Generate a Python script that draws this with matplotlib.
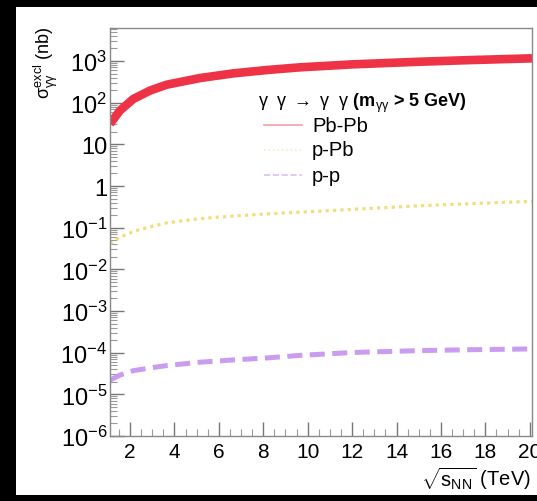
import numpy as np
import matplotlib
matplotlib.use("Agg")
import matplotlib.pyplot as plt
from matplotlib.patches import Rectangle
from matplotlib.ticker import FixedLocator, LogLocator, NullFormatter

plt.rcParams['font.family'] = ['Liberation Sans', 'DejaVu Sans']
plt.rcParams['mathtext.fontset'] = 'custom'
plt.rcParams['mathtext.rm'] = 'Liberation Sans'
plt.rcParams['mathtext.it'] = 'Liberation Sans'
plt.rcParams['mathtext.bf'] = 'Liberation Sans:bold'

# sqrt(s_NN) in TeV
energy = [1.1, 1.55, 2.15, 2.9, 3.65, 5.15, 6.65, 8.2, 9.65, 12, 15, 17.5, 20.1]
# cross sections in nb
pbpb = [31, 65, 123, 195, 270, 390, 505, 610, 705, 830, 960, 1060, 1160]
ppb = [0.041, 0.059, 0.081, 0.105, 0.13, 0.165, 0.19, 0.215, 0.235, 0.275, 0.335, 0.38, 0.43]
pp = [2.2e-5, 2.9e-5, 3.7e-5, 4.3e-5, 4.9e-5, 5.9e-5, 6.7e-5, 7.5e-5, 8.6e-5,
      1.01e-4, 1.12e-4, 1.18e-4, 1.23e-4]

ytick_vals = [1e-6, 1e-5, 1e-4, 1e-3, 1e-2, 1e-1, 1, 10, 1e2, 1e3]
ytick_labels = ['$10^{-6}$', '$10^{-5}$', '$10^{-4}$', '$10^{-3}$', '$10^{-2}$',
                '$10^{-1}$', '1', '10', '$10^{2}$', '$10^{3}$']
xtick_vals = [2, 4, 6, 8, 10, 12, 14, 16, 18, 20]

fig = plt.figure(figsize=(5.37, 5.02), dpi=100, facecolor='black')
fig.patches.append(Rectangle((16 / 537, 6 / 502), 521 / 537, 488 / 502,
                             transform=fig.transFigure, facecolor='white',
                             edgecolor='none', zorder=-5))
ax = fig.add_axes([110 / 537, 1 - 437 / 502, 422 / 537, 408 / 502], zorder=2)

ax.plot(energy, pbpb, color='#ee3347', lw=6.2, solid_capstyle='butt')
ax.plot(energy, ppb, color='#f5dc7a', lw=2.3, linestyle=(0, (1, 1.3)))
ax.plot(energy, pp, color='#c99cf0', lw=3.6, linestyle=(0, (3, 1.5)))

ax.set_yscale('log')
ax.set_xlim(1.1, 20.1)
ax.set_ylim(1e-6, 6200)
ax.set_yticks(ytick_vals)
ax.set_yticklabels(ytick_labels)
ax.yaxis.set_minor_locator(LogLocator(base=10, subs=np.arange(2, 10), numticks=20))
ax.yaxis.set_minor_formatter(NullFormatter())
ax.set_xticks(xtick_vals)
ax.xaxis.set_minor_locator(FixedLocator(np.arange(1.5, 20.1, 0.5)))

ax.tick_params(axis='both', which='major', direction='in', length=10, width=1,
               color='#777777')
ax.tick_params(axis='both', which='minor', direction='in', length=5, width=0.8,
               color='#999999')
ax.tick_params(axis='x', pad=4, labelsize=15)
ax.tick_params(axis='y', pad=2, labelsize=17)
for s in ax.spines.values():
    s.set_color('#888888')
    s.set_linewidth(1)

fig.text(46 / 537, 1 - 26 / 502, r'$\sigma_{\gamma\gamma}^{excl}$ (nb)', rotation=90,
         fontsize=13, ha='center', va='top', zorder=5)
fig.text(531 / 537, 1 - 479 / 502, r'$\sqrt{s_{NN}}$ (TeV)', fontsize=14.5,
         ha='right', va='center', zorder=5)

# legend
fig.text(258 / 537, 1 - 103 / 502,
         r'$\gamma\ \ \gamma\ \rightarrow\ \gamma\ \ \gamma$ (m$_{\gamma\gamma}$ > 5 GeV)',
         fontsize=13, fontweight='bold', va='center', zorder=5)
leg_names = ['Pb-Pb', 'p-Pb', 'p-p']
leg_colors = ['#f0a0a8', '#f8ecc0', '#d8c0f0']
leg_styles = ['-', ':', '--']
for i, (name, c, ls) in enumerate(zip(leg_names, leg_colors, leg_styles)):
    yy = 1 - (126 + i * 25) / 502
    fig.add_artist(plt.Line2D([264 / 537, 302 / 537], [yy, yy], color=c, lw=1.2,
                              linestyle=ls, transform=fig.transFigure, zorder=5))
    fig.text(312 / 537, yy, name, fontsize=14.5, va='center', zorder=5)

fig.savefig('out.png', dpi=100, facecolor=fig.get_facecolor())
